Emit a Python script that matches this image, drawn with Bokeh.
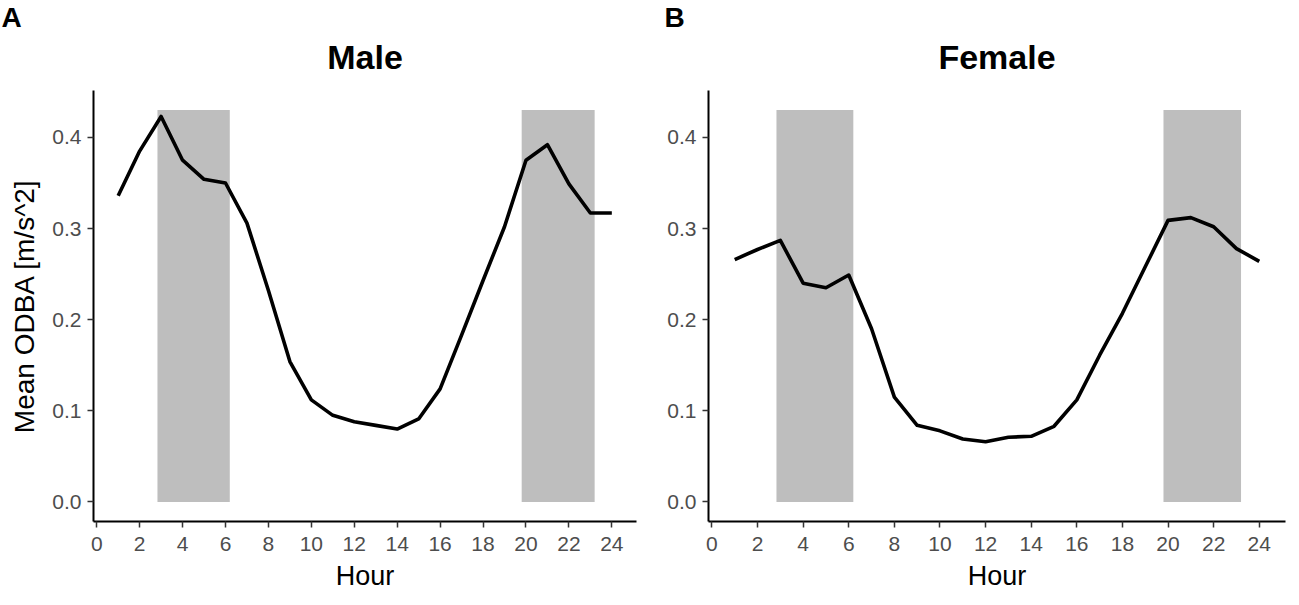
from bokeh.plotting import figure
from bokeh.layouts import row
from bokeh.models import Range1d, FixedTicker, NumeralTickFormatter, Title
from bokeh.embed import file_html
from bokeh.resources import INLINE

# ---- data ----
hours = list(range(1, 25))
male_odba = [0.336, 0.385, 0.423, 0.375, 0.354, 0.350, 0.306, 0.232, 0.154, 0.112,
             0.095, 0.088, 0.084, 0.080, 0.091, 0.124, 0.183, 0.243, 0.302, 0.375,
             0.392, 0.349, 0.317, 0.317]
female_odba = [0.266, 0.277, 0.287, 0.240, 0.235, 0.249, 0.190, 0.115, 0.084, 0.078,
               0.069, 0.066, 0.071, 0.072, 0.083, 0.112, 0.161, 0.207, 0.258, 0.309,
               0.312, 0.302, 0.278, 0.264]
shade_start = [2.83, 19.8]
shade_end = [6.2, 23.2]
shade_bottom = [0.0, 0.0]
shade_top = [0.43, 0.43]
x_ticks = list(range(0, 25, 2))
y_ticks = [0.0, 0.1, 0.2, 0.3, 0.4]

FONT = "Liberation Sans"
TOP, BOTTOM, HEIGHT = 90, 79, 600


def make_panel(title, letter, values, width, b_left, b_right, ylabel, letter_offset):
    p = figure(width=width, height=HEIGHT, output_backend="svg", toolbar_location=None,
               x_range=Range1d(-0.15, 25.15), y_range=Range1d(-0.0215, 0.4515),
               min_border_left=b_left, min_border_right=b_right,
               min_border_top=TOP, min_border_bottom=BOTTOM)
    p.outline_line_color = None
    p.xgrid.visible = False
    p.ygrid.visible = False
    p.background_fill_color = "white"

    p.quad(left=shade_start, right=shade_end, bottom=shade_bottom, top=shade_top,
           fill_color="#BEBEBE", line_color=None)
    p.line(hours, values, line_width=3.6, color="black", line_join="round")

    # panel title (nearest to the frame) and panel letter (outer)
    p.add_layout(Title(text=title, align="center", text_font=FONT, text_font_size="34px",
                       text_font_style="bold", text_color="black", standoff=29), "above")
    p.add_layout(Title(text=letter, align="left", offset=letter_offset, text_font=FONT,
                       text_font_size="28px", text_font_style="bold", text_color="black",
                       standoff=-22), "above")

    for ax in (p.xaxis[0], p.yaxis[0]):
        ax.axis_line_width = 2
        ax.axis_line_color = "black"
        ax.major_tick_line_width = 1.5
        ax.major_tick_line_color = "#333333"
        ax.major_tick_out = 6
        ax.major_tick_in = 0
        ax.minor_tick_line_color = None
        ax.major_label_text_font = FONT
        ax.major_label_text_font_size = "21px"
        ax.major_label_text_color = "#4D4D4D"
        ax.axis_label_text_font = FONT
        ax.axis_label_text_font_style = "normal"
        ax.axis_label_text_color = "black"

    p.xaxis.ticker = FixedTicker(ticks=x_ticks)
    p.yaxis.ticker = FixedTicker(ticks=y_ticks)
    p.yaxis.formatter = NumeralTickFormatter(format="0.0")
    p.xaxis.major_label_standoff = 9
    p.yaxis.major_label_standoff = 6
    p.xaxis.axis_label = "Hour"
    p.xaxis.axis_label_text_font_size = "27px"
    p.xaxis.axis_label_standoff = 7
    if ylabel:
        p.yaxis.axis_label = ylabel
        p.yaxis.axis_label_text_font_size = "28px"
        p.yaxis.axis_label_standoff = 9
    return p


p1 = make_panel("Male", "A", male_odba, 645, 93, 9, "Mean ODBA [m/s^2]", -92)
p2 = make_panel("Female", "B", female_odba, 652, 63, 12, None, -44)

layout = row(p1, p2)
open("out.html", "w").write(file_html(layout, INLINE))
